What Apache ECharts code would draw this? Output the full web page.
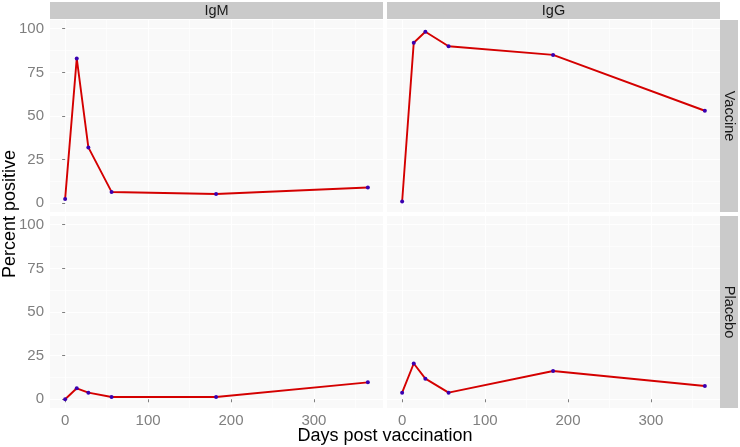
<!DOCTYPE html>
<html>
<head>
<meta charset="utf-8">
<script src="https://cdn.jsdelivr.net/npm/echarts@6/dist/echarts.min.js"></script>
<style>html,body{margin:0;padding:0;background:#fff}#c{width:740px;height:447px}</style>
</head>
<body>
<div id="c"></div>
<script>
const days = [0, 14, 28, 56, 182, 365];
const igmVaccine = [2.5, 83, 32, 6.5, 5.3, 9];
const iggVaccine = [1, 92, 98.3, 90, 85, 53];
const igmPlacebo = [0, 6.3, 3.8, 1.3, 1.3, 9.7];
const iggPlacebo = [3.8, 20.5, 11.8, 3.8, 16.2, 7.6];
const yTicks = [0, 25, 50, 75, 100];
const yMinor = [12.5, 37.5, 62.5, 87.5];
const xTicks = [0, 100, 200, 300];
const xMinor = [50, 150, 250, 350];
const colLabels = ['IgM', 'IgG'];
const rowLabels = ['Vaccine', 'Placebo'];
const xTitle = 'Days post vaccination';
const yTitle = 'Percent positive';

const panelData = [[igmVaccine, iggVaccine], [igmPlacebo, iggPlacebo]];

const FONT = 'Liberation Sans, Arial, sans-serif';
const colX = [50, 387];
const rowY = [20, 216];
const PW = 333, PH = 192;
const XMIN = -18.25, XMAX = 383.25, YMIN = -5, YMAX = 105;

const grids = [], xAxes = [], yAxes = [], series = [], graphics = [];
let gi = 0;
for (let r = 0; r < 2; r++) {
  for (let c = 0; c < 2; c++) {
    grids.push({left: colX[c], top: rowY[r], width: PW, height: PH, show: true,
      backgroundColor: '#f9f9f9', borderWidth: 0, containLabel: false});
    const bottom = r === 1, left = c === 0;
    xAxes.push({type: 'value', gridIndex: gi, min: XMIN, max: XMAX, position: 'bottom',
      axisLine: {show: false},
      axisTick: {show: bottom, customValues: xTicks, length: 3, lineStyle: {color: '#7f7f7f', width: 1}},
      axisLabel: {show: bottom, customValues: xTicks, color: '#7f7f7f', fontSize: 15, fontFamily: FONT, margin: 5},
      splitLine: {show: true, lineStyle: {color: '#ffffff', width: 1}}});
    xAxes.push({type: 'value', gridIndex: gi, min: XMIN, max: XMAX, position: 'top',
      axisLine: {show: false},
      axisTick: {show: false, customValues: xMinor},
      axisLabel: {show: false, customValues: xMinor},
      splitLine: {show: true, lineStyle: {color: '#ffffff', width: 0.6}}});
    yAxes.push({type: 'value', gridIndex: gi, min: YMIN, max: YMAX, position: 'left',
      axisLine: {show: false},
      axisTick: {show: left, customValues: yTicks, length: 3, lineStyle: {color: '#7f7f7f', width: 1}},
      axisLabel: {show: left, customValues: yTicks, color: '#7f7f7f', fontSize: 15, fontFamily: FONT, margin: 6},
      splitLine: {show: true, lineStyle: {color: '#ffffff', width: 1}}});
    yAxes.push({type: 'value', gridIndex: gi, min: YMIN, max: YMAX, position: 'right',
      axisLine: {show: false},
      axisTick: {show: false, customValues: yMinor},
      axisLabel: {show: false, customValues: yMinor},
      splitLine: {show: true, lineStyle: {color: '#ffffff', width: 0.6}}});
    const vals = panelData[r][c];
    series.push({type: 'line', xAxisIndex: gi * 2, yAxisIndex: gi * 2,
      data: days.map((d, i) => [d, vals[i]]),
      symbol: 'circle', symbolSize: 4, showSymbol: true,
      itemStyle: {color: '#3a00b0'},
      lineStyle: {color: '#d40000', width: 1.9},
      z: 3, animation: false});
    gi++;
  }
}

for (let c = 0; c < 2; c++) {
  graphics.push({type: 'rect', shape: {x: colX[c], y: 2, width: PW, height: 17}, style: {fill: '#cacaca'}, silent: true});
  graphics.push({type: 'text', x: colX[c] + PW / 2, y: 11, style: {text: colLabels[c], fill: '#1a1a1a', font: '14.5px ' + FONT, align: 'center', verticalAlign: 'middle'}, silent: true});
}
for (let r = 0; r < 2; r++) {
  graphics.push({type: 'rect', shape: {x: 720, y: rowY[r], width: 18, height: PH}, style: {fill: '#cacaca'}, silent: true});
  graphics.push({type: 'text', x: 729, y: rowY[r] + PH / 2, rotation: -Math.PI / 2, style: {text: rowLabels[r], fill: '#1a1a1a', font: '14.5px ' + FONT, align: 'center', verticalAlign: 'middle'}, silent: true});
}
graphics.push({type: 'text', x: 385, y: 436, style: {text: xTitle, fill: '#000', font: '18px ' + FONT, align: 'center', verticalAlign: 'middle'}, silent: true});
graphics.push({type: 'text', x: 10, y: 214, rotation: Math.PI / 2, style: {text: yTitle, fill: '#000', font: '18px ' + FONT, align: 'center', verticalAlign: 'middle'}, silent: true});

const chart = echarts.init(document.getElementById('c'), null, {renderer: 'canvas'});
chart.setOption({
  animation: false,
  backgroundColor: '#ffffff',
  grid: grids, xAxis: xAxes, yAxis: yAxes, series: series, graphic: graphics
});
</script>
</body>
</html>
